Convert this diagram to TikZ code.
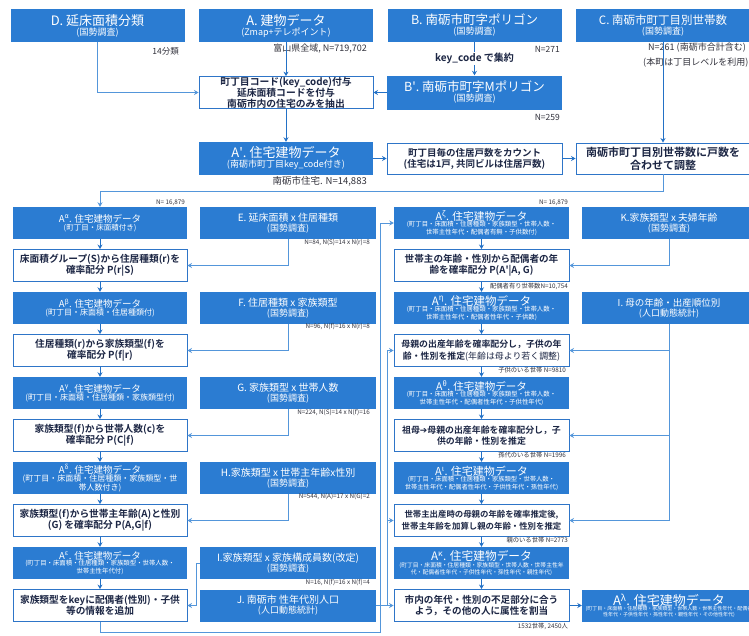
\documentclass[tikz,border=0pt]{standalone}
\usepackage{fontspec}
\setmainfont{Noto Sans CJK JP}[BoldFont={Noto Sans CJK JP Bold}]
\newfontfamily\arrowfont{DejaVu Sans}
\usetikzlibrary{arrows.meta}
\definecolor{boxblue}{RGB}{43,124,210}
\definecolor{procline}{RGB}{46,117,200}
\definecolor{flowblue}{RGB}{35,113,198}
\definecolor{feedblue}{RGB}{84,150,218}
\definecolor{inknavy}{RGB}{28,38,68}
\definecolor{notegray}{RGB}{50,50,60}
\newcommand{\fsz}[2]{\fontsize{#1}{#2}\selectfont}
\begin{document}
\begin{tikzpicture}
[x=1pt,y=-1pt,
  databox/.style={fill=boxblue,text=white,minimum width=174pt,minimum height=32pt,inner sep=0.5pt,align=center,font=\fsz{8}{8.5}},
  procbox/.style={draw=procline,line width=0.9pt,fill=white,text=inknavy,minimum width=174pt,minimum height=32pt,inner sep=0.5pt,align=center,font=\bfseries\fsz{9.7}{11}},
  note/.style={text=notegray,inner sep=0pt,font=\fsz{6.3}{7}},
  flow/.style={draw=flowblue,line width=0.9pt,-{Stealth[length=4.5pt,width=5pt]}},
  feed/.style={draw=feedblue,line width=0.8pt,-{Stealth[length=4.5pt,width=5pt]}}]
\useasboundingbox (0,0) rectangle (749,635);
\clip (0,0) rectangle (749,635);
\fill[white] (0,0) rectangle (749,635);
%% source data (top row)
\foreach \nodename/\x/\tsize/\title/\sub in {D/97.5/13/{D. 延床面積分類}/{(国勢調査)}, A/286/13/{A. 建物データ}/{(Zmap+テレポイント)}, B/474.5/12.5/{B. 南砺市町字ポリゴン}/{(国勢調査)}, C/663/11.5/{C. 南砺市町丁目別世帯数}/{(国勢調査)}} {
  \node (\nodename) at (\x,25.5) [databox,minimum height=33pt,font=\fsz{9}{10}] {{\fsz{\tsize}{\tsize}\title}\\\sub};
}
\node (prep) at (286,92.5) [procbox,minimum height=31pt,font=\bfseries\fsz{9.8}{10.8}] {町丁目コード(key\_code)付与\\延床面積コードを付与\\南砺市内の住宅のみを抽出};
\node (Bp) at (474.5,92.5) [databox,minimum width=175pt,minimum height=34pt,font=\fsz{9}{10}] {{\fsz{12.5}{13}B\textquotesingle. 南砺市町字Mポリゴン}\\(国勢調査)};
\node (Ap) at (286,158.5) [databox,minimum height=33pt,font=\fsz{9}{10}] {{\fsz{13}{13}A\textquotesingle. 住宅建物データ}\\(南砺市町丁目key\_code付き)};
\node (count) at (474.5,158.5) [procbox,minimum width=175pt,minimum height=31pt,font=\bfseries\fsz{9.5}{11}] {町丁目毎の住居戸数をカウント\\(住宅は1戸, 共同ビルは住居戸数)};
\node (adjust) at (663,158.5) [procbox,minimum height=31pt,font=\bfseries\fsz{11}{13}] {南砺市町丁目別世帯数に戸数を\\合わせて調整};
%% left column: housing data and allocation steps
\foreach \nodename/\y/\greek/\ssize/\sub in {Aalpha/223/α/7.5/{(町丁目・床面積付き)}, Abeta/308/β/8/{(町丁目・床面積・住居種類付)}, Agamma/393/γ/8/{(町丁目・床面積・住居種類・家族類型付)}, Adelta/478/δ/8/{(町丁目・床面積・住居種類・家族類型・世\\帯人数付き)}, Aepsilon/563/ε/6.4/{(町丁目・床面積・住居種類・家族類型・世帯人数・\\世帯主性年代付)}} {
  \node (\nodename) at (100,\y) [databox,font=\fsz{\ssize}{\ssize}] {{\fsz{9.5}{10}A\textsuperscript{\greek}. 住宅建物データ}\\\sub};
}
\foreach \nodename/\y/\txt in {p1/265.5/{床面積グループ(S)から住居種類(r)を\\確率配分 P(r|S)}, p2/350.5/{住居種類(r)から家族類型(f)を\\確率配分 P(f|r)}, p3/435.5/{家族類型(f)から世帯人数(c)を\\確率配分 P(C|f)}, p4/520.5/{家族類型(f)から世帯主年齢(A)と性別\\(G) を確率配分 P(A,G|f)}, p5/605.5/{家族類型をkeyに配偶者(性別)・子供\\等の情報を追加}} {
  \node (\nodename) at (100,\y) [procbox] {\txt};
}
%% second column: census tables
\foreach \nodename/\y/\title/\sub in {E/223/{E. 延床面積 x 住居種類}/{(国勢調査)}, F/308/{F. 住居種類 x 家族類型}/{(国勢調査)}, G/393/{G. 家族類型 x 世帯人数}/{(国勢調査)}, H/478/{H.家族類型 x 世帯主年齢x性別}/{(国勢調査)}, Ifam/563/{I.家族類型 x 家族構成員数(改定)}/{(国勢調査)}, J/605.5/{J. 南砺市 性年代別人口}/{(人口動態統計)}} {
  \node (\nodename) at (288,\y) [databox,minimum width=176pt,font=\fsz{9}{10}] {{\fsz{10}{11}\title}\\\sub};
}
%% third column: household members
\foreach \nodename/\y/\greek/\tsize/\ssize/\sub in {Azeta/223/ζ/10.7/6.4/{(町丁目・床面積・住居種類・家族類型・世帯人数・\\世帯主性年代・配偶者有無・子供数付)}, Aeta/308/η/11.5/6.4/{(町丁目・床面積・住居種類・家族類型・世帯人数・\\世帯主性年代・配偶者性年代・子供数)}, Atheta/393/θ/10.5/6.4/{(町丁目・床面積・住居種類・家族類型・世帯人数・\\世帯主性年代・配偶者性年代・子供性年代)}, Aiota/478/ι/11/6.3/{(町丁目・床面積・住居種類・家族類型・世帯人数・\\世帯主性年代・配偶者性年代・子供性年代・孫性年代)}, Akappa/563/κ/11.7/5.8/{(町丁目・床面積・住居種類・家族類型・世帯人数・世帯主性年\\代・配偶者性年代・子供性年代・孫性年代・親性年代)}} {
  \node (\nodename) at (481.5,\y) [databox,minimum width=175pt,font=\fsz{\ssize}{\ssize}] {{\fsz{\tsize}{\tsize}A\textsuperscript{\greek}. 住宅建物データ}\\\sub};
}
\foreach \nodename/\y/\psize/\txt in {p6/265.5/9.6/{世帯主の年齢・性別から配偶者の年\\齢を確率配分 P(A\textquotesingle|A, G)}, p7/350.5/8.9/{母親の出産年齢を確率配分し，子供の年\\齢・性別を推定{\mdseries(年齢は母より若く調整)}}, p8/435.5/8.9/{祖母{\arrowfont ➔}母親の出産年齢を確率配分し，子\\供の年齢・性別を推定}, p9/520.5/8.4/{世帯主出産時の母親の年齢を確率推定後,\\世帯主年齢を加算し親の年齢・性別を推定}, p10/605.5/9.6/{市内の年代・性別の不足部分に合う\\よう，その他の人に属性を割当}} {
  \node (\nodename) at (481.5,\y) [procbox,minimum width=175pt,font=\bfseries\fsz{\psize}{11.5}] {\txt};
}
%% fourth column
\node (K) at (669,223) [databox,font=\fsz{9}{10}] {{\fsz{9.8}{10}K.家族類型 x 夫婦年齢}\\(国勢調査)};
\node (Imom) at (669,308) [databox,font=\fsz{9}{10}] {{\fsz{9.5}{10}I. 母の年齢・出産順位別}\\(人口動態統計)};
\node (Alambda) at (669,605.5) [databox,font=\fsz{5}{5.5}] {{\fsz{13}{13}A\textsuperscript{λ}. 住宅建物データ}\\(町丁目・床面積・住居種類・家族類型・世帯人数・世帯主性年代・配偶者\\性年代・子供性年代・孫性年代・親性年代・その他性年代)};
%% counts and remarks
\node (n14) [note,anchor=east,font=\fsz{8.5}{9}] at (179,51) {14分類};
\node (nA) [note,anchor=east,font=\fsz{9}{10}] at (367,49) {富山県全域, N=719,702};
\node (nB) [note,anchor=east,font=\fsz{8.5}{9}] at (560,49) {N=271};
\node (nBp) [note,anchor=east,font=\fsz{8.5}{9}] at (560,117) {N=259};
\node (nC1) [note,anchor=west,font=\fsz{9}{10}] at (648,48) {N=261 (南砺市合計含む)};
\node (nC2) [note,anchor=west,font=\fsz{9}{10}] at (643,63) {(本町は丁目レベルを利用)};
\node (nAp) [note,anchor=east,font=\fsz{9.5}{10}] at (367,181) {南砺市住宅. N=14,883};
\foreach \nodename/\x/\y/\txt in {nAa/185/203/{N= 16,879}, nAz/568/203/{N= 16,879}, nE/370/243/{N=84,  N(S)=14 x N(r)=8}, nF/370/327/{N=96,  N(f)=16 x N(r)=8}, nG/370/413/{N=224,  N(S)=14 x N(f)=16}, nH/370/497/{N=544,  N(A)=17 x N(G)=2}, nI/370/583/{N=16,  N(f)=16 x N(f)=4}, n6/568/286/{配偶者有り世帯数N=10,754}, n7/566/370/{子供のいる世帯 N=9810}, n8/566/455/{孫代のいる世帯 N=1996}, n9/568/540/{親のいる世帯 N=2773}, n10/568/626/{1532世帯, 2450人}} {
  \node (\nodename) [note,anchor=east] at (\x,\y) {\txt};
}
%% edges or lines
\path
\foreach \startnode/\endnode in {A/prep, prep/Ap, C/adjust, Bp/prep, Ap/count, count/adjust, Aalpha/p1, p1/Abeta, Abeta/p2, p2/Agamma, Agamma/p3, p3/Adelta, Adelta/p4, p4/Aepsilon, Aepsilon/p5, Azeta/p6, p6/Aeta, Aeta/p7, p7/Atheta, Atheta/p8, p8/Aiota, Aiota/p9, p9/Akappa, Akappa/p10, p10/Alambda} {
  (\startnode) edge[flow] (\endnode)
};
\draw[flow] (B) -- node[fill=white,inner sep=1pt,text=inknavy,font=\bfseries\fsz{10}{11}] (keylabel) {key\_code で集約} (Bp);
\draw[feed] (D.south) |- (prep.west);
\coordinate (hub) at (663,191);
\draw[feed] (adjust.south) -- (hub) -| (Aalpha.north);
\foreach \src/\dst in {E/p1, F/p2, G/p3, H/p4, K/p6, Imom/p7, Imom/p8, Imom/p9} {
  \draw[feed] (\src.south) |- (\dst.east);
}
\coordinate (ifamknee) at (196,563);
\draw[feed] (Ifam.west) -- (ifamknee) |- (p5.east);
\coordinate (loopcorner) at (380,632);
\draw[feed] (p5.south) |- (loopcorner) |- (Azeta.west);
\draw[feed] (J) -- (p10);
\coordinate (jbus) at (387,605.5);
\draw[feed] (jbus) |- (p9.west);
\draw[feed] (jbus) |- (p7.west);
\end{tikzpicture}
\end{document}
